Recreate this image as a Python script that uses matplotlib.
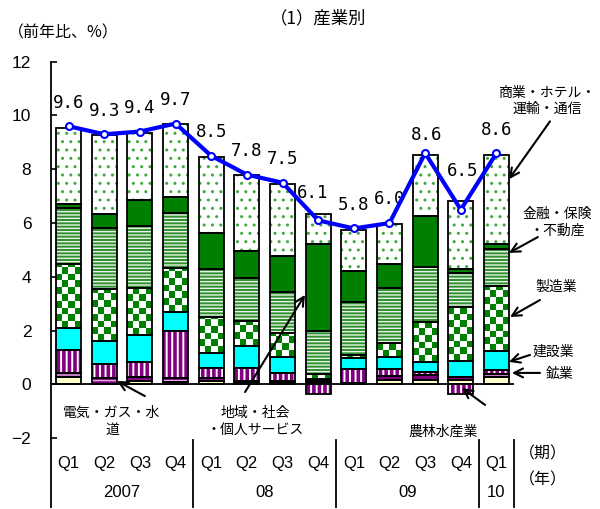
import numpy as np
import matplotlib
matplotlib.use('Agg')
import matplotlib.pyplot as plt
from matplotlib.colors import ListedColormap

plt.rcParams['font.family'] = ['Noto Sans CJK JP', 'DejaVu Sans']

# Data (contribution to y/y growth, %)
quarters = ['Q1', 'Q2', 'Q3', 'Q4', 'Q1', 'Q2', 'Q3', 'Q4', 'Q1', 'Q2', 'Q3', 'Q4', 'Q1']
years = ['2007', '08', '09', '10']
year_sizes = [4, 4, 4, 1]

agri = [0.27, 0.00, 0.12, 0.10, 0.12, 0.05, 0.06, 0.06, 0.03, 0.15, 0.17, 0.17, 0.27]
mining = [0.15, 0.23, 0.15, 0.13, 0.13, 0.07, 0.06, 0.06, 0.03, 0.16, 0.17, 0.10, 0.12]
elec = [0.86, 0.54, 0.56, 1.74, 0.35, 0.48, 0.31, -0.35, 0.50, 0.27, 0.12, -0.35, 0.15]
constr = [0.82, 0.86, 1.02, 0.73, 0.57, 0.82, 0.58, 0.09, 0.43, 0.43, 0.37, 0.59, 0.69]
manuf = [2.39, 1.91, 1.75, 1.64, 1.32, 0.95, 0.90, 0.19, 0.12, 0.53, 1.48, 2.03, 2.44]
finance = [2.08, 2.26, 2.29, 2.04, 1.82, 1.57, 1.51, 1.58, 1.94, 2.03, 2.04, 1.27, 1.35]
services = [0.15, 0.52, 0.95, 0.58, 1.33, 1.02, 1.36, 3.23, 1.15, 0.92, 1.91, 0.12, 0.21]
commerce = [2.81, 2.94, 2.51, 2.72, 2.80, 2.81, 2.68, 1.14, 1.53, 1.49, 2.28, 2.53, 3.29]
total = [9.6, 9.3, 9.4, 9.7, 8.5, 7.8, 7.5, 6.1, 5.8, 6.0, 8.6, 6.5, 8.6]

fig = plt.figure(figsize=(6, 5.09), dpi=100)
ax = fig.add_axes([0.0845, 0.1389, 0.7727, 0.740])

x = np.arange(len(quarters))
width = 0.70

# (face, hatch, hatch colour, hatch linewidth)
styles = [
    ('#FFFFC8', None, 'black', 1.0),      # agri
    ('#800080', '---', '#E0B0E0', 1.0),   # mining
    ('white', '|||', '#800080', 2.6),     # elec
    ('#00FFFF', None, 'black', 1.0),      # construction
    ('white', None, 'black', 1.0),        # manufacturing (checker drawn below)
    ('#2F8F2F', '-----', '#E8F4E8', 1.0), # finance
    ('#008000', None, 'black', 1.0),      # services
    ('white', '..', '#3FA83F', 1.0),      # commerce
]
series = [agri, mining, elec, constr, manuf, finance, services, commerce]

pos_base = np.zeros(len(x))
neg_base = np.zeros(len(x))
manuf_bars = None
for k, (vals, (face, hatch, hcol, hlw)) in enumerate(zip(series, styles)):
    vals = np.array(vals)
    bottom = np.where(vals >= 0, pos_base, neg_base)
    with plt.rc_context({'hatch.linewidth': hlw}):
        bars = ax.bar(x, vals, width, bottom=bottom, color=face, hatch=hatch,
                      edgecolor=hcol, linewidth=0, zorder=1)
    ax.bar(x, vals, width, bottom=bottom, fill=False, edgecolor='black',
           linewidth=1.3, zorder=2)
    if k == 4:
        manuf_bars = bars
    pos_base += np.clip(vals, 0, None)
    neg_base += np.clip(vals, None, 0)

# checkerboard texture for manufacturing
checker = ListedColormap(['white', '#008000'])
sq = 0.25
for rect in manuf_bars:
    h = rect.get_height()
    if h <= 0:
        continue
    x0, y0, w = rect.get_x(), rect.get_y(), rect.get_width()
    ny = int(np.ceil(h / sq))
    pat = np.add.outer(np.arange(ny), np.arange(4)) % 2
    im = ax.imshow(pat, extent=(x0, x0 + w, y0, y0 + ny * sq), origin='lower',
                   cmap=checker, aspect='auto', interpolation='nearest', zorder=1.5)
    im.set_clip_path(rect)

# total line
ax.plot(x, total, color='#0000FF', lw=3, marker='o', ms=5, mfc='white',
        mec='#0000FF', mew=1.5, zorder=4)

label_offsets = {7: (-4, 20), 10: (1, 13), 11: (1, 28)}
for i, v in enumerate(total):
    dx, dy = label_offsets.get(i, (0, 17))
    ax.annotate(f'{v:.1f}', (i, v), xytext=(dx, dy), textcoords='offset points',
                ha='center', va='center', fontsize=12.5, family='DejaVu Sans Mono')

ax.set_xlim(-0.5, len(x) - 0.5)
ax.set_ylim(-2, 12)
ax.set_yticks(np.arange(-2, 13, 2))
ax.tick_params(axis='y', direction='in', length=4, width=1.2, pad=14, labelsize=12.5)
for lab in ax.get_yticklabels():
    lab.set_family('Liberation Sans')
ax.set_xticks([])
for s in ['top', 'right', 'bottom']:
    ax.spines[s].set_visible(False)
ax.spines['left'].set_linewidth(1.3)
ax.axhline(0, color='black', lw=1.3, zorder=3)

# category table below the plot
y_q, y_yr, y_top, y_bot = -2.92, -4.03, -2.06, -4.55
ax.plot([-0.5, -0.5], [-2, y_bot], color='black', lw=1.3, clip_on=False)
for i, q in enumerate(quarters):
    ax.text(i, y_q, q, ha='center', va='center', fontsize=12, family='Liberation Sans')
start = 0
for yr, size in zip(years, year_sizes):
    ax.text(start + (size - 1) / 2, y_yr, yr, ha='center', va='center',
            fontsize=12, family='Liberation Sans')
    start += size
    ax.plot([start - 0.5, start - 0.5], [y_top, y_bot], color='black', lw=1.3, clip_on=False)
ax.text(13.3, -2.6, '（期）', ha='center', va='center', fontsize=11.5)
ax.text(13.3, -3.55, '（年）', ha='center', va='center', fontsize=11.5)

# sector labels with arrows
arrow = dict(arrowstyle='->', color='black', lw=1.5, mutation_scale=16, shrinkA=0, shrinkB=0)
notes = [
    ('商業・ホテル・\n運輸・通信', (13.42, 10.54), (13.5, 9.78), (12.35, 7.63)),
    ('金融・保険\n・不動産', (13.7, 6.04), (13.16, 5.48), (12.35, 4.89)),
    ('製造業', (13.67, 3.62), (13.22, 3.14), (12.38, 2.51)),
    ('建設業', (13.58, 1.21), (12.94, 1.10), (12.35, 0.84)),
    ('鉱業', (13.78, 0.39), (13.22, 0.43), (12.43, 0.43)),
    ('電気・ガス・水\n道', (1.22, -1.36), (2.14, -0.43), (1.36, 0.13)),
    ('地域・社会\n・個人サービス', (5.23, -1.36), (4.95, -0.28), (6.63, 3.33)),
    ('農林水産業', (10.5, -1.77), (11.68, -0.76), (11.03, -0.13)),
]
for text, tpos, tail, tip in notes:
    ax.text(*tpos, text, ha='center', va='center', fontsize=10, linespacing=1.25,
            clip_on=False)
    ax.annotate('', xy=tip, xytext=tail, arrowprops=arrow, annotation_clip=False, zorder=5)

fig.text(0.53, 1 - 18 / 509, '（1）産業別', ha='center', va='center', fontsize=12.5)
fig.text(8 / 600, 1 - 33 / 509, '（前年比、%）', ha='left', va='center', fontsize=11.5)

fig.savefig('out.png', dpi=100)
plt.close(fig)
